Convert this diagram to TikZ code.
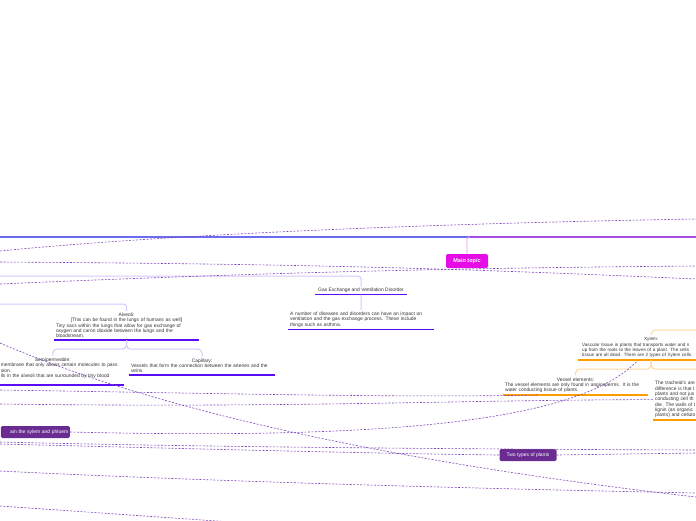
\documentclass[tikz,border=0pt]{standalone}
\usepackage{fontspec}
\setmainfont{Liberation Sans}
\usetikzlibrary{calc}

\definecolor{topicmag}{HTML}{E60CE6}
\definecolor{topicpink}{HTML}{F08CF0}
\definecolor{topblue}{HTML}{6B6BF0}
\definecolor{toppurple}{HTML}{A54EE8}
\definecolor{boxpurple}{HTML}{6A2C91}
\definecolor{lavline}{HTML}{D6C6FB}
\definecolor{ulviolet}{HTML}{5A0CF5}
\definecolor{ulorange}{HTML}{FF9D00}
\definecolor{lightorange}{HTML}{FFD8A0}
\definecolor{relline}{HTML}{7C45B8}
\definecolor{notegray}{HTML}{333333}

\tikzset{
  topic/.style={fill=topicmag, text=white, font=\fontsize{5.5}{6}\selectfont\bfseries,
    rounded corners=2pt, minimum width=42pt, minimum height=14pt, inner sep=1pt},
  relbox/.style={fill=boxpurple, text=white, font=\fontsize{5}{6}\selectfont,
    rounded corners=1.5pt, minimum height=12pt, inner sep=1.5pt},
  note/.style={font=\fontsize{4.9}{5.3}\selectfont, text=notegray, inner xsep=2pt,
    inner ysep=2pt, align=left},
  ulv/.style={line width=1.6pt, draw=ulviolet},
  ulo/.style={line width=1.6pt, draw=ulorange},
  lav/.style={line width=1pt, draw=lavline},
  orl/.style={line width=1pt, draw=lightorange},
  rel/.style={dash pattern=on 2pt off 1.5pt, line width=0.6pt, draw=relline},
}

\begin{document}
\begin{tikzpicture}[x=1pt,y=-1pt]
  \useasboundingbox (0,0) rectangle (696,520);
  \clip (0,0) rectangle (696,520);

  % ends of connectors that run off the picture
  \coordinate (topL) at (0,237);
  \coordinate (topR) at (696,237);
  \coordinate (gasin) at (0,276);
  \coordinate (alvin) at (0,304);
  \coordinate (xylin) at (696,330);

  % nodes
  \node[topic] (main) at (467,261) {Main topic};
  \node[note, align=center, minimum width=92pt, inner ysep=1.5pt, anchor=south] (gas) at (361,294.5)
    {Gas Exchange and Ventilation Disorder};
  \node[note, text width=142pt, anchor=south west] (gasd) at (288,329.5)
    {A number of diseases and disorders can have an impact on\\
     ventilation and the gas exchange process. These include\\
     things such as asthma.};
  \node[note, text width=141pt, anchor=south] (alv) at (126.5,340)
    {\centering Alveoli:\\ {[This can be found in the lungs of humans as well]}\par
     \raggedright Tiny sacs within the lungs that allow for gas exchange of\\
     oxygen and caron dioxide between the lungs and the\\
     bloodstream.};
  \node[note, text width=138pt, anchor=south east] (semi) at (124,385)
    {\centering Semipermeable:\par
     \raggedright\hspace*{17pt}membrane that only allows certain molecules to pass\\
     \hspace*{17pt}sion.\\
     \hspace*{17pt}lls in the alveoli that are surrounded by tiny blood\\
     \mbox{}};
  \node[note, text width=142pt, anchor=south] (cap) at (202,375)
    {\centering Capillary:\par
     \raggedright Vessels that form the connection between the arteries and the\\
     veins.};
  \node[note, font=\fontsize{4.6}{5.3}\selectfont, inner xsep=4pt, text width=138pt, anchor=south west] (xyl) at (578,360)
    {\centering Xylem:\par
     \raggedright Vascular tissue in plants that transports water and n\\
     up from the roots to the leaves of a plant. The cells\\
     tissue are all dead. There are 2 types of Xylem cells.};
  \node[note, text width=141pt, anchor=south] (ves) at (575.5,395)
    {\centering Vessel elements:\par
     \raggedright The vessel elements are only found in angiosperms. It is the\\
     water conducting tissue of plants.};
  \node[note, text width=142pt, anchor=south west] (tra) at (653,420)
    {The tracheid's are\\
     difference is that t\\
     plants and not jus\\
     conducting cell th\\
     die. The walls of t\\
     lignin (an organic\\
     plants) and cellulo};
  \node[relbox, text width=66pt, align=right, anchor=east] (xp) at (70,432) {ain the sylem and phloem};
  \node[relbox, minimum width=57pt] (two) at (528,455) {Two types of plants};

  % underlines
  \draw[ulv] (gas.south west) -- (gas.south east);
  \draw[ulv] (gasd.south west) -- (gasd.south east);
  \draw[ulv] (alv.south west) -- (alv.south east);
  \draw[ulv] (semi.south west) -- (semi.south east);
  \draw[ulv] (cap.south west) -- (cap.south east);
  \draw[ulo] (xyl.south west) -- (xyl.south east);
  \draw[ulo] (ves.south west) -- (ves.south east);
  \draw[ulo] (tra.south west) -- (tra.south east);

  % branches
  \draw[line width=1.2pt, draw=topblue] (topL) -- (main.north |- topL);
  \draw[line width=1.2pt, draw=toppurple] (main.north |- topL) -- (topR);
  \draw[line width=0.8pt, draw=topicpink, rounded corners=2pt] (main.north) |- ($(main.north |- topL)+(3,0)$);
  \draw[lav, rounded corners=3pt] (gasin) -| (gas.north);
  \draw[lav] (gas.south) -- (gasd.north);
  \draw[lav, rounded corners=3pt] (alvin) -| (alv.north);
  \draw[lav, rounded corners=4pt] (alv.south) -- ++(0,9) -| (semi.north);
  \draw[lav, rounded corners=4pt] (alv.south) -- ++(0,9) -| (cap.north);
  \draw[orl, rounded corners=4pt] (xylin) -| (xyl.north);
  \draw[orl, rounded corners=4pt] (xyl.south) -- ++(0,9) -| (ves.north);
  \draw[orl, rounded corners=4pt] (xyl.south) -- ++(0,9) -| (tra.north);

  % relations
  \draw[rel] (0,251) .. controls (150,236) and (400,224) .. (696,219);
  \draw[rel] (0,262) .. controls (300,264) and (450,268) .. (696,279);
  \draw[rel] (0,284) .. controls (250,273) and (450,268) .. (696,266);
  \draw[rel] (0,343) .. controls (120,395) and (330,455) .. (696,497);
  \draw[rel] (0,390) .. controls (200,393) and (400,398) .. ($(ves.south)+(-38,0)$);
  \draw[rel] (0,404) .. controls (300,408) and (450,400) .. (tra.west);
  \draw[rel] (xp.east) .. controls (400,440) and (580,420) .. ($(xyl.south)+(-14,1)$);
  \draw[rel] (0,442) .. controls (200,447) and (450,449) .. (696,450);
  \draw[rel] (0,444) .. controls (200,449) and (400,454) .. (two.west);
  \draw[rel] (two.east) -- (696,453);
  \draw[rel] (0,471) .. controls (200,481) and (450,488) .. (696,493);
  \draw[rel] (0,506) -- (260,524);
\end{tikzpicture}
\end{document}
